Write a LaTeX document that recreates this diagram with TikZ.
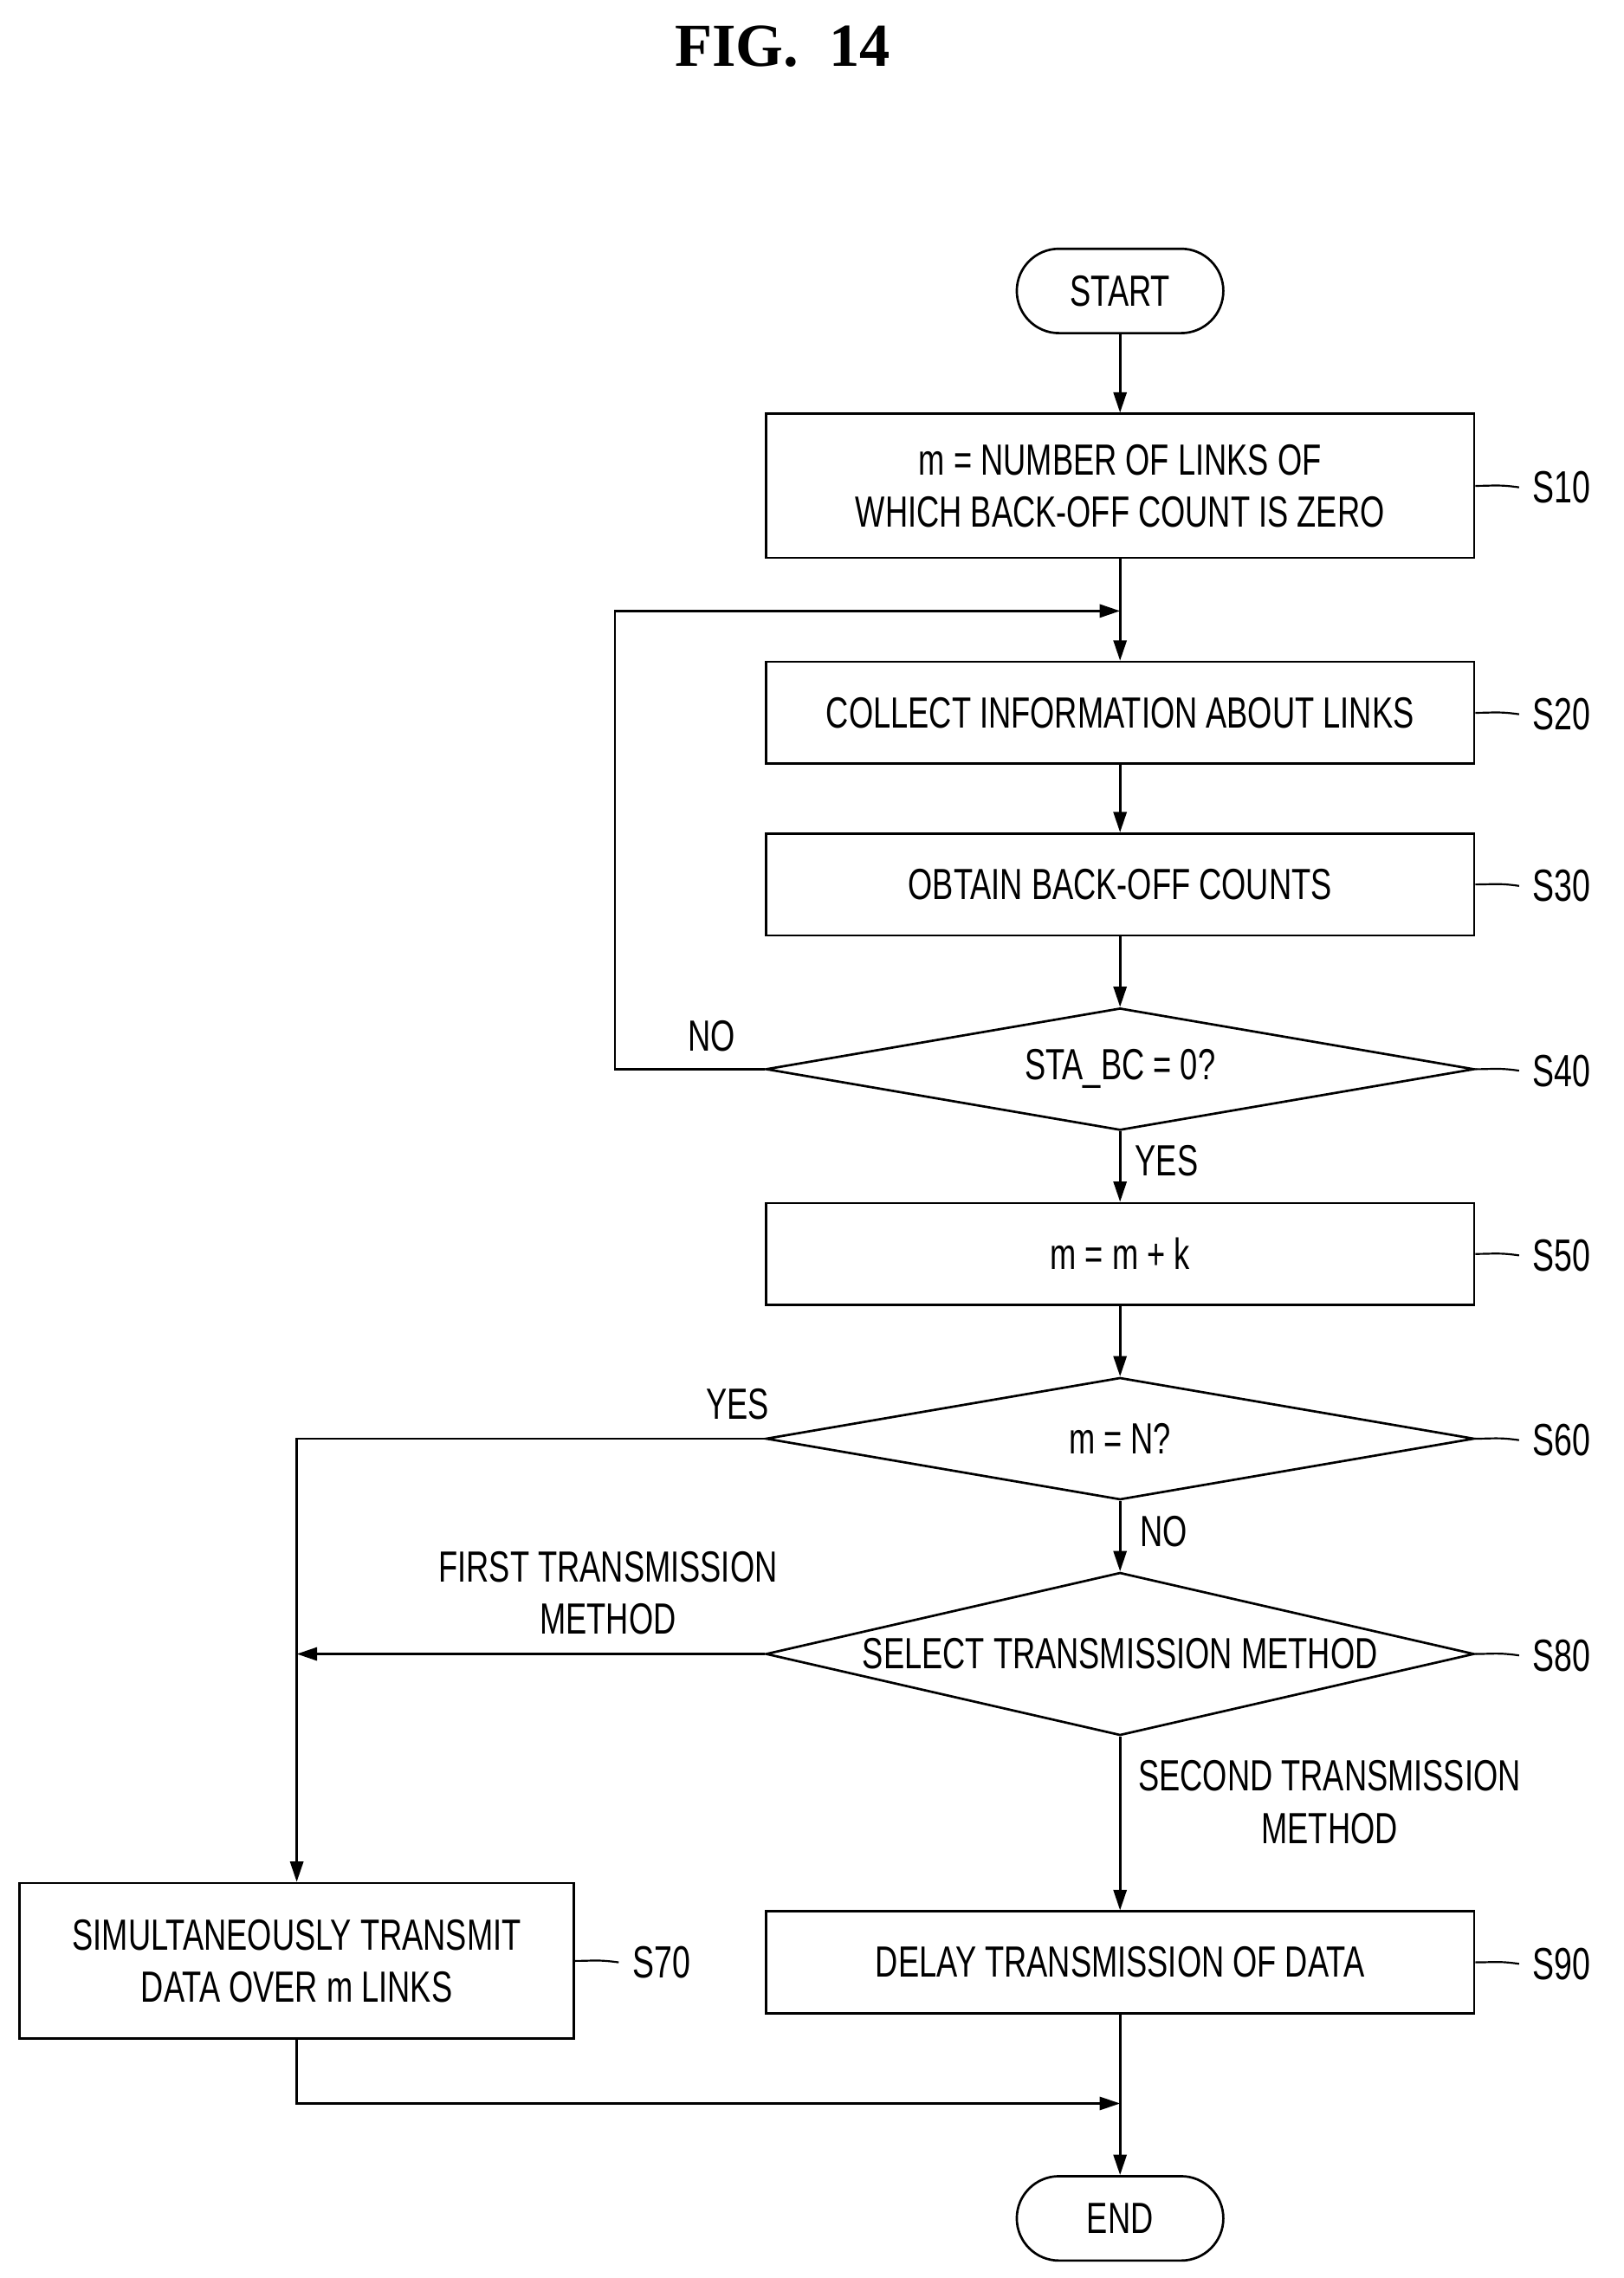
\documentclass[tikz,border=0pt]{standalone}
\usepackage{fontspec}
\setmainfont{Liberation Sans}[FakeStretch=0.72]
\newfontfamily\titlefont{Liberation Serif}
\usetikzlibrary{shapes.geometric,arrows.meta}
\tikzset{
  box/.style={draw,line width=1.6pt,minimum width=487pt,minimum height=70pt,align=center,font=\fontsize{30}{36}\selectfont},
  term/.style={draw,line width=1.6pt,rounded corners=29pt,minimum width=142pt,minimum height=58pt,font=\fontsize{30}{36}\selectfont},
  dec/.style={draw,line width=1.6pt,diamond,aspect=5.8,minimum width=487pt,minimum height=84pt,inner sep=0pt,font=\fontsize{30}{36}\selectfont},
  flow/.style={line width=1.6pt,-{Triangle[length=14pt,width=9pt]}},
  lbl/.style={font=\fontsize{30}{36}\selectfont,align=center},
  tag/.style={font=\fontsize{31}{36}\selectfont,anchor=west}
}
\newcommand{\steptag}[2]{%
  \draw[line width=1.3pt] (#1) .. controls +(12pt,0) and +(-14pt,2pt) .. ++(30pt,-1pt) coordinate (t#2);
  \node[tag] at ([xshift=6pt]t#2) {#2};}
\begin{document}
\begin{tikzpicture}[x=1pt,y=-1pt]
\useasboundingbox (0,0) rectangle (1116,1566);
\node[font=\titlefont\bfseries\fontsize{42}{44}\selectfont] at (538,32) {FIG.\ \ 14};
% nodes
\node[term] (start) at (770,200) {START};
\node[box,minimum height=99pt] (s10) at (770,334) {m = NUMBER OF LINKS OF\\WHICH BACK-OFF COUNT IS ZERO};
\node[box] (s20) at (770,490) {COLLECT INFORMATION ABOUT LINKS};
\node[box] (s30) at (770,608) {OBTAIN BACK-OFF COUNTS};
\node[dec] (s40) at (770,735) {STA\_BC = 0?};
\node[box] (s50) at (770,862) {m = m + k};
\node[dec] (s60) at (770,989) {m = N?};
\node[dec,minimum height=112pt,aspect=4.35] (s80) at (770,1137) {SELECT TRANSMISSION METHOD};
\node[box,minimum width=381pt,minimum height=107pt] (s70) at (204,1348) {SIMULTANEOUSLY TRANSMIT\\DATA OVER m LINKS};
\node[box] (s90) at (770,1349) {DELAY TRANSMISSION OF DATA};
\node[term] (end) at (770,1525) {END};
\coordinate (loop) at (770,420);
\coordinate (join) at (770,1446);
% connectors
\draw[flow] (start) -- (s10);
\draw[flow] (s10) -- (s20);
\draw[flow] (s20) -- (s30);
\draw[flow] (s30) -- (s40);
\draw[flow] (s40.west) -- ++(-103,0) |- (loop);
\draw[flow] (s40) -- (s50);
\draw[flow] (s50) -- (s60);
\draw[flow] (s60.west) -| (s70.north);
\draw[flow] (s60) -- (s80);
\draw[flow] (s80.west) -- (204,1137);
\draw[flow] (s80) -- (s90);
\draw[flow] (s70.south) |- (join);
\draw[flow] (s90) -- (end);
% labels
\node[lbl] at (489,712) {NO};
\node[lbl] at (802,798) {YES};
\node[lbl] at (507,965) {YES};
\node[lbl] at (800,1053) {NO};
\node[lbl] at (418,1095) {FIRST TRANSMISSION\\METHOD};
\node[lbl] at (914,1239) {SECOND TRANSMISSION\\METHOD};
% step tags
\steptag{s10.east}{S10}
\steptag{s20.east}{S20}
\steptag{s30.east}{S30}
\steptag{s40.east}{S40}
\steptag{s50.east}{S50}
\steptag{s60.east}{S60}
\steptag{s80.east}{S80}
\steptag{s90.east}{S90}
\steptag{s70.east}{S70}
\end{tikzpicture}
\end{document}
